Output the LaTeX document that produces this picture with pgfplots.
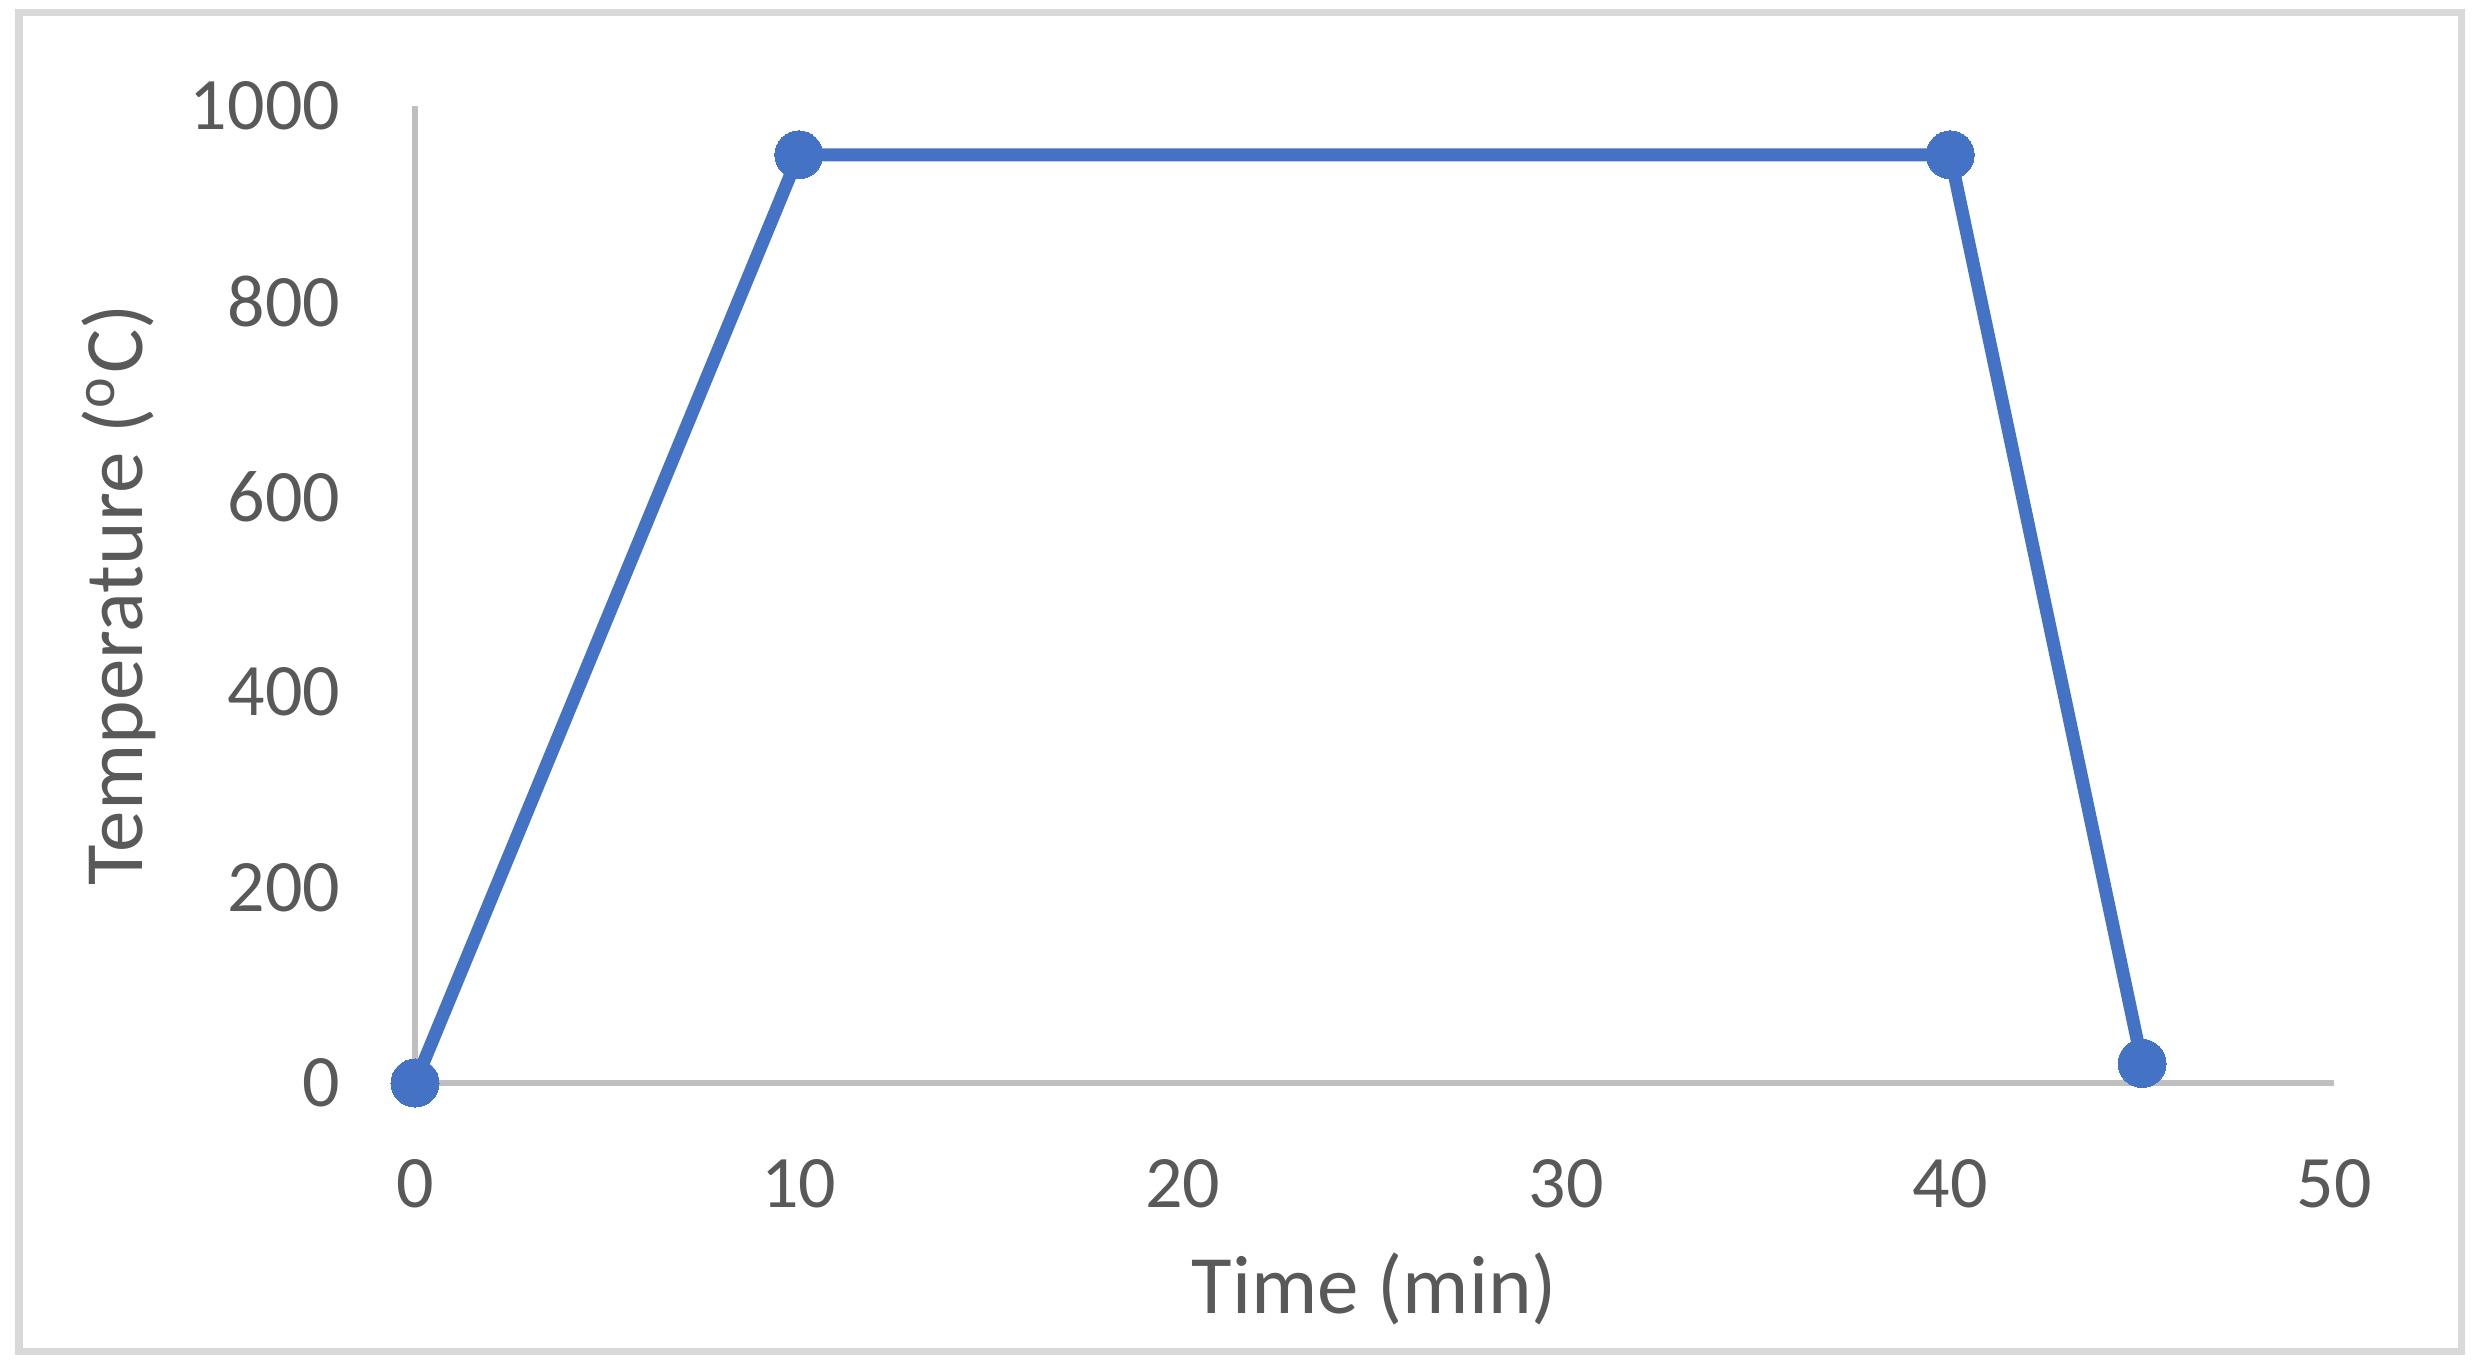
\documentclass[border=0pt]{standalone}
\usepackage{fontspec}
\setmainfont{Carlito}
\usepackage{pgfplots}
\pgfplotsset{compat=1.18}
\definecolor{serblue}{HTML}{4472C4}
\definecolor{txtgray}{HTML}{595959}
\definecolor{axgray}{HTML}{BFBFBF}
\definecolor{boxgray}{HTML}{D9D9D9}
\begin{document}
\begin{tikzpicture}
\useasboundingbox (0,0) rectangle (248.6bp,137bp);
\draw[boxgray, line width=0.7bp] (1.9bp,1.9bp) rectangle (246.1bp,135.7bp);
\begin{axis}[
    at={(41.5bp,28.7bp)}, anchor=south west,
    scale only axis,
    width=191.9bp, height=97.7bp,
    xmin=0, xmax=50, ymin=0, ymax=1000,
    xtick={0,10,...,50},
    ytick={0,200,...,1000},
    separate axis lines,
    axis x line*=bottom, axis y line*=left,
    axis line style={-, draw=axgray, line width=0.65bp},
    major tick length=0pt,
    clip=false,
    /pgf/number format/assume math mode=true,
    /pgf/number format/1000 sep={},
    tick label style={font=\fontsize{7.4bp}{8bp}\selectfont, text=txtgray, inner sep=0pt},
    yticklabel style={anchor=east, xshift=-7.3bp},
    xticklabel style={anchor=north, yshift=-7.4bp},
    xlabel={Time (min)},
    ylabel={Temperature (\textsuperscript{o}C)},
    label style={font=\fontsize{8.3bp}{9bp}\selectfont, text=txtgray, inner sep=0pt},
    xlabel style={at={(axis description cs:0.5,0)}, anchor=north, yshift=-16.8bp},
    ylabel style={at={(axis description cs:-0.134,0.5)}, anchor=south, rotate=0},
]
\addplot[serblue, line width=1.3bp, mark=*, mark size=2.4bp, mark options={fill=serblue, draw=serblue, line width=0pt}]
  coordinates {(0,0) (10,950) (40,950) (45,20)};
\end{axis}
\end{tikzpicture}
\end{document}
